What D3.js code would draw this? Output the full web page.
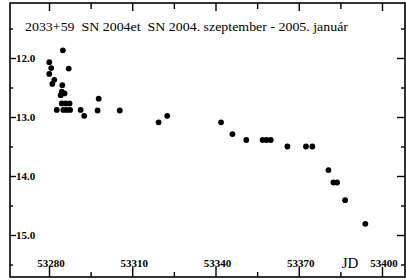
<!DOCTYPE html>
<html><head><meta charset="utf-8">
<script src="https://cdn.jsdelivr.net/npm/d3@7"></script>
<style>html,body{margin:0;padding:0;background:#fff;}svg{display:block;}</style>
</head><body><svg id="c" width="406" height="280"></svg>
<script>
const titleText = "2033+59  SN 2004et  SN 2004. szeptember - 2005. január";
const axisLabel = "JD";
const xMajor = [53280, 53310, 53340, 53370, 53400];
const xMinor = [53295, 53325, 53355, 53385];
const yMajor = [12, 13, 14, 15];
const yMinor = [11.5, 12.5, 13.5, 14.5, 15.5];
const jd = [53285.0, 53280.1, 53280.8, 53280.1, 53287.1, 53281.9, 53281.2, 53284.8, 53284.6, 53285.6, 53284.2,
  53284.6, 53286.0, 53287.4, 53282.8, 53285.2, 53286.4, 53287.6, 53291.4, 53292.7, 53297.9, 53297.5, 53305.5,
  53319.5, 53322.6, 53342.0, 53346.1, 53351.1, 53357.0, 53358.4, 53359.9, 53365.9, 53372.6, 53374.9,
  53380.7, 53382.5, 53383.8, 53386.7, 53394.0];
const mag = [11.87, 12.07, 12.17, 12.27, 12.18, 12.37, 12.44, 12.46, 12.57, 12.60, 12.63,
  12.77, 12.77, 12.77, 12.88, 12.88, 12.88, 12.88, 12.88, 12.98, 12.69, 12.89, 12.89,
  13.09, 12.98, 13.09, 13.29, 13.39, 13.39, 13.39, 13.39, 13.50, 13.50, 13.50,
  13.90, 14.11, 14.11, 14.41, 14.81];

const svg = d3.select("#c");
const L = 10, T = 3, R = 405, B = 277;
const x = d3.scaleLinear().domain([53280, 53400]).range([49, 382]);
const y = d3.scaleLinear().domain([12, 15]).range([58, 235]);
const serif = "'Liberation Serif','DejaVu Serif',serif";

svg.append("rect").attr("x", L).attr("y", T).attr("width", R - L).attr("height", B - T)
  .attr("fill", "none").attr("stroke", "#000").attr("stroke-width", 1.6);

function ax(gen, vals, size, tx, ty) {
  const g = svg.append("g").attr("transform", `translate(${tx},${ty})`)
    .call(gen.tickValues(vals).tickSize(size).tickFormat(""));
  g.select(".domain").remove();
  g.selectAll("line").attr("stroke", "#000").attr("stroke-width", 1.4);
}
ax(d3.axisTop(x), xMajor, 10, 0, B);
ax(d3.axisTop(x), xMinor, 5, 0, B);
ax(d3.axisBottom(x), xMajor, 8, 0, T);
ax(d3.axisBottom(x), xMinor, 6, 0, T);
ax(d3.axisRight(y), yMajor, 6, L, 0);
ax(d3.axisRight(y), yMinor, 3, L, 0);
ax(d3.axisLeft(y), yMajor, 8, R, 0);
ax(d3.axisLeft(y), yMinor, 4, R, 0);

svg.append("g").selectAll("text").data(yMajor).join("text")
  .attr("x", L + 6).attr("y", d => y(d) + 4)
  .attr("font-family", serif).attr("font-size", 11).attr("font-weight", "bold")
  .text(d => d.toFixed(1));

svg.append("g").selectAll("text").data(xMajor).join("text")
  .attr("x", d => x(d) + 2).attr("y", 267).attr("text-anchor", "middle")
  .attr("font-family", serif).attr("font-size", 11).attr("font-weight", "bold")
  .text(d => d);

svg.append("text").attr("x", 350).attr("y", 268).attr("text-anchor", "middle")
  .attr("font-family", serif).attr("font-size", 15).text(axisLabel);

svg.append("text").attr("x", 25).attr("y", 31)
  .attr("font-family", serif).attr("font-size", 12.5)
  .attr("textLength", 323).attr("lengthAdjust", "spacingAndGlyphs")
  .style("white-space", "pre").text(titleText);

svg.append("g").selectAll("circle").data(jd).join("circle")
  .attr("cx", (d, i) => x(d)).attr("cy", (d, i) => y(mag[i])).attr("r", 2.9).attr("fill", "#000");
</script></body></html>
